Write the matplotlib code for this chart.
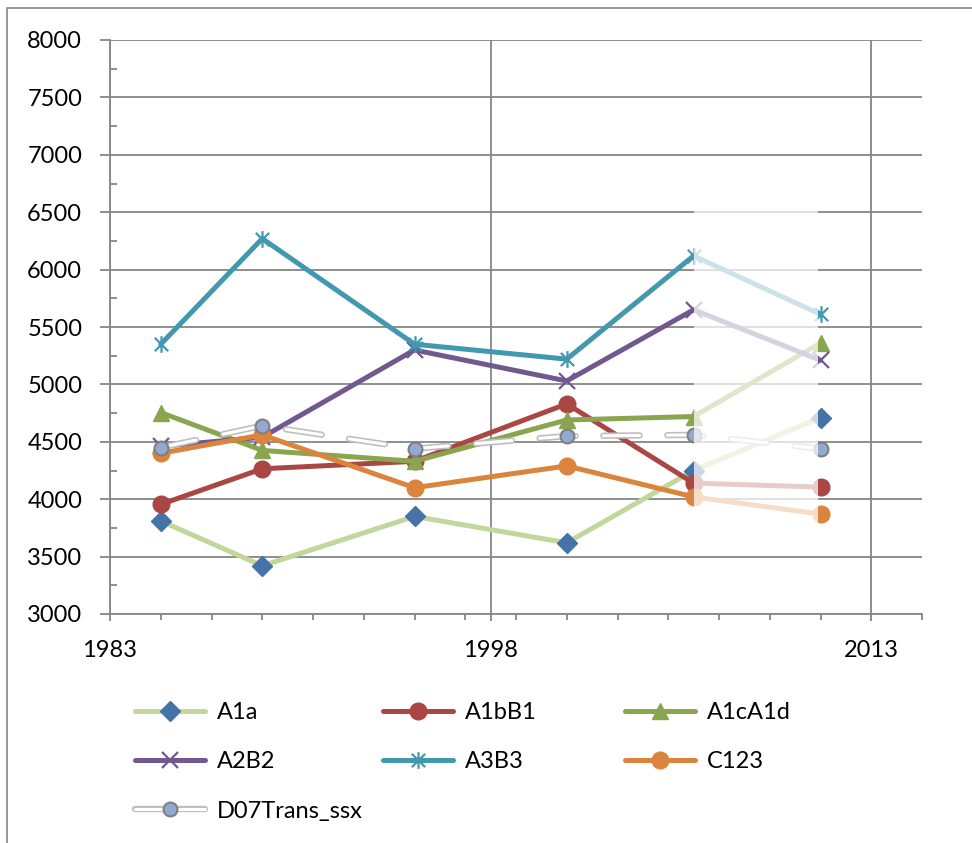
import matplotlib
matplotlib.use('Agg')
import matplotlib.pyplot as plt
from matplotlib.lines import Line2D
from matplotlib.patches import Rectangle
from matplotlib.path import Path
from matplotlib.ticker import MultipleLocator, FixedLocator
from matplotlib.legend_handler import HandlerTuple

plt.rcParams['font.family'] = ['Lato', 'DejaVu Sans']
plt.rcParams['lines.scale_dashes'] = False

# Data
years = [1985, 1989, 1995, 2001, 2006, 2011]
a1a = [3810, 3420, 3850, 3620, 4250, 4710]
a1bb1 = [3955, 4265, 4330, 4830, 4140, 4105]
a1ca1d = [4755, 4425, 4330, 4690, 4720, 5360]
a2b2 = [4460, 4540, 5300, 5030, 5650, 5210]
a3b3 = [5350, 6270, 5350, 5220, 6120, 5610]
c123 = [4400, 4560, 4100, 4290, 4020, 3870]
d07 = [4450, 4640, 4440, 4550, 4560, 4440]

x_major = [1983, 1998, 2013]
grid_c = '#868686'

# asterisk marker (x with a vertical bar)
star = Path([(-1, -1), (1, 1), (-1, 1), (1, -1), (0, -1.25), (0, 1.25)],
            [Path.MOVETO, Path.LINETO, Path.MOVETO, Path.LINETO, Path.MOVETO, Path.LINETO])

fig = plt.figure(figsize=(9.72, 8.43), dpi=100)
ax = fig.add_axes([110 / 972, 1 - 614 / 843, (922 - 110) / 972, (614 - 40) / 843])

lw = 3.6
styles = [
    dict(label='A1a', y=a1a, color='#C3D69B', marker='D', mfc='#4572A7', mec='#4572A7', ms=10, mew=1),
    dict(label='A1bB1', y=a1bb1, color='#AA4643', marker='o', mfc='#AA4643', mec='#AA4643', ms=12, mew=1),
    dict(label='A1cA1d', y=a1ca1d, color='#89A54E', marker='^', mfc='#89A54E', mec='#89A54E', ms=12, mew=1),
    dict(label='A2B2', y=a2b2, color='#71588F', marker='x', mfc='none', mec='#71588F', ms=11, mew=1.6),
    dict(label='A3B3', y=a3b3, color='#4198AF', marker=star, mfc='none', mec='#4198AF', ms=12, mew=1.6),
    dict(label='C123', y=c123, color='#DB843D', marker='o', mfc='#DB843D', mec='#DB843D', ms=12, mew=1),
]

handles = []
z = 3
for s in styles:
    ax.plot(years, s['y'], color=s['color'], lw=lw, marker=s['marker'], ms=s['ms'],
            mfc=s['mfc'], mec=s['mec'], mew=s['mew'], zorder=z, solid_capstyle='round')
    handles.append(Line2D([], [], color=s['color'], lw=lw, marker=s['marker'], ms=s['ms'],
                          mfc=s['mfc'], mec=s['mec'], mew=s['mew'], solid_capstyle='round'))
    z += 1

# D07Trans_ssx: outlined dashed double line
dash = (0, (26, 20))
ax.plot(years, d07, color='#BFBFBF', lw=4.6, linestyle=dash, dash_capstyle='round', zorder=z)
ax.plot(years, d07, color='white', lw=2.2, linestyle=dash, dash_capstyle='round', zorder=z + 0.1)
ax.plot(years, d07, linestyle='none', marker='o', ms=10, mfc='#93A9CF', mec='#7F7F7F',
        mew=1.5, zorder=z + 0.2)
h_out = Line2D([], [], color='#BFBFBF', lw=4.6, solid_capstyle='round')
h_in = Line2D([], [], color='white', lw=2.2, solid_capstyle='round')
h_mk = Line2D([], [], linestyle='none', marker='o', ms=10, mfc='#93A9CF', mec='#7F7F7F', mew=1.5)
handles.append((h_out, h_in, h_mk))

# washed-out band between the last two points
ax.add_patch(Rectangle((years[4], 3700), years[5] - years[4] - 0.1, 3100,
                       facecolor='white', edgecolor='none', alpha=0.73, zorder=20))

# Axes
ax.set_xlim(1983, 2015)
ax.set_ylim(3000, 8000)
ax.xaxis.set_major_locator(FixedLocator(x_major))
ax.xaxis.set_minor_locator(MultipleLocator(2, offset=1))
ax.yaxis.set_major_locator(MultipleLocator(500))
ax.yaxis.set_minor_locator(MultipleLocator(250))

ax.grid(True, which='major', color=grid_c, lw=1.3, zorder=0)
ax.set_axisbelow(True)
for sp in ['top', 'right']:
    ax.spines[sp].set_visible(False)
for sp in ['left', 'bottom']:
    ax.spines[sp].set_color(grid_c)
    ax.spines[sp].set_linewidth(1.3)

ax.tick_params(axis='y', which='major', direction='out', length=7, width=1.3, color=grid_c,
               pad=13, labelsize=17)
ax.tick_params(axis='y', which='minor', direction='in', length=5, width=1.3, color=grid_c)
ax.tick_params(axis='x', which='major', direction='out', length=5, width=1.3, color=grid_c,
               pad=14, labelsize=17)
ax.tick_params(axis='x', which='minor', direction='out', length=4, width=1.3, color=grid_c)

# Legend: three equal-width columns
labels = [s['label'] for s in styles] + ['D07Trans_ssx']
cols = [[0, 3, 6], [1, 4], [2, 5]]
col_x = [135, 383, 625]
for ci, idx in enumerate(cols):
    fig.legend([handles[i] for i in idx], [labels[i] for i in idx],
               loc='upper left', bbox_to_anchor=(col_x[ci] / 972, 1 - 702 / 843),
               frameon=False, fontsize=17, handlelength=2.95, handletextpad=0.5,
               labelspacing=1.2, borderpad=0, borderaxespad=0,
               handler_map={tuple: HandlerTuple(ndivide=1, pad=0)})

# Chart-area border
fig.patches.append(Rectangle((7 / 972, -0.1), 1.2, 1 - 8 / 843 + 0.1, transform=fig.transFigure,
                             fill=False, edgecolor=grid_c, lw=1.2))

fig.savefig('out.png', dpi=100)
